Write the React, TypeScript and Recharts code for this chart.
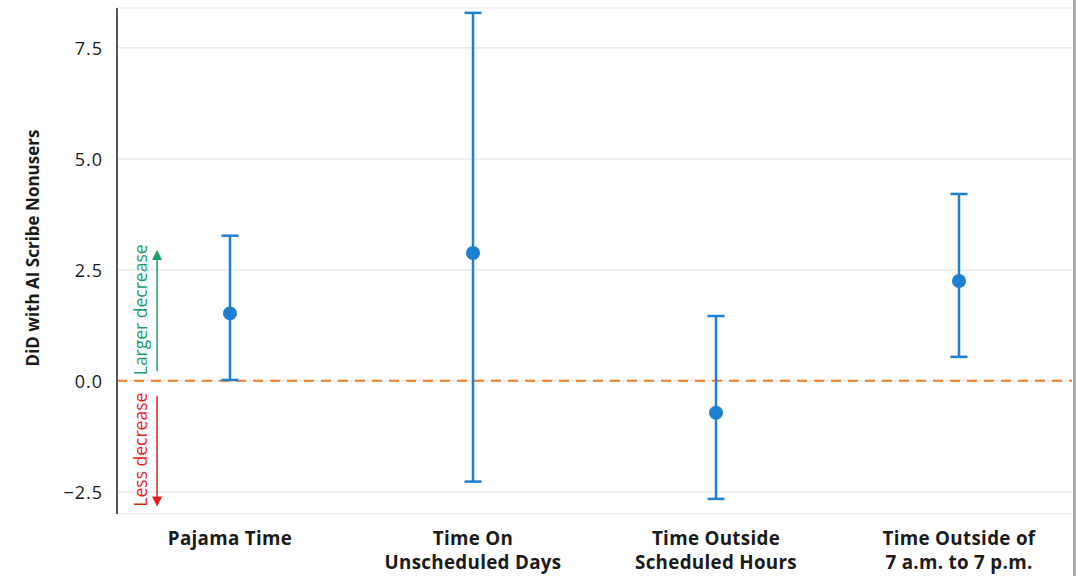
import { CartesianGrid, ComposedChart, ErrorBar, ReferenceDot, ReferenceLine, Scatter, XAxis, YAxis } from 'recharts'

const categories = ['Pajama Time', 'Time On\nUnscheduled Days', 'Time Outside\nScheduled Hours', 'Time Outside of\n7 a.m. to 7 p.m.']
const estimates = [1.52, 2.88, -0.72, 2.25]
const lowerBounds = [0.02, -2.27, -2.66, 0.54]
const upperBounds = [3.27, 8.29, 1.46, 4.21]
const yTicks = [-2.5, 0, 2.5, 5, 7.5]

const palette = {
  blue: '#1c7fd0',
  orange: '#f47b20',
  green: '#1a9c6c',
  red: '#ea1c1c',
  grid: '#e4e4e4',
  axis: '#555',
  ink: '#1a1a1a',
}

const data = categories.map((name, i) => ({
  x: i,
  name,
  y: estimates[i],
  err: [estimates[i] - lowerBounds[i], upperBounds[i] - estimates[i]],
}))

const boldFont = '"Open Sans", Lato, sans-serif'

function CategoryTick(props: any) {
  const { x, y, payload } = props
  const lines = categories[payload.value].split('\n')
  return (
    <text x={x} y={y} textAnchor="middle" fontFamily={boldFont} fontWeight={700} fontSize={18.8} letterSpacing={0.3} fill={palette.ink}>
      {lines.map((line, i) => (
        <tspan key={i} x={x} dy={i === 0 ? 23 : 24}>
          {line}
        </tspan>
      ))}
    </text>
  )
}

function ValueTick(props: any) {
  const { x, y, payload } = props
  const v = payload.value as number
  const label = v < 0 ? `\u2212${Math.abs(v).toFixed(1)}` : v.toFixed(1)
  return (
    <text
      x={x}
      y={y}
      textAnchor="end"
      dominantBaseline="central"
      fontFamily='"Open Sans", sans-serif'
      fontSize={18}
      letterSpacing={1}
      fill={palette.ink}
    >
      {label}
    </text>
  )
}

function YTitle(props: any) {
  const { viewBox } = props
  const cx = viewBox.x + 32
  const cy = viewBox.y + viewBox.height / 2 - 13
  return (
    <text
      x={cx}
      y={cy}
      transform={`rotate(-90 ${cx} ${cy})`}
      textAnchor="middle"
      dominantBaseline="central"
      fontFamily={boldFont}
      fontWeight={700}
      fontSize={17}
      fill={palette.ink}
    >
      DiD with AI Scribe Nonusers
    </text>
  )
}

function Dot(props: any) {
  return <circle cx={props.cx} cy={props.cy} r={7} fill={palette.blue} />
}

function ArrowHead(color: string, up: boolean) {
  return (props: any) => {
    const { cx, cy } = props
    const d = up
      ? `M${cx},${cy} L${cx - 5},${cy + 10} L${cx + 5},${cy + 10} Z`
      : `M${cx},${cy} L${cx - 5},${cy - 10} L${cx + 5},${cy - 10} Z`
    return <path d={d} fill={color} />
  }
}

function SideNote(text: string, color: string) {
  return (props: any) => {
    const { cx, cy } = props
    return (
      <text
        x={cx}
        y={cy}
        transform={`rotate(-90 ${cx} ${cy})`}
        textAnchor="middle"
        dominantBaseline="central"
        fontFamily='"Open Sans", sans-serif'
        fontSize={17.5}
        fill={color}
      >
        {text}
      </text>
    )
  }
}

export default function App() {
  return (
    <div style={{ position: 'absolute', left: 0, top: 0, width: 1076, height: 576, background: '#fff' }}>
      <ComposedChart width={1076} height={576} data={data} margin={{ top: 8, right: 4, bottom: 0, left: 0 }}>
        <CartesianGrid vertical={false} stroke={palette.grid} strokeWidth={1.2} />
        <XAxis
          type="number"
          dataKey="x"
          domain={[-0.465, 3.465]}
          ticks={[0, 1, 2, 3]}
          axisLine={false}
          tickLine={false}
          height={62}
          interval={0}
          tick={<CategoryTick />}
        />
        <YAxis
          type="number"
          domain={[-3.0, 8.4]}
          ticks={yTicks}
          width={117}
          allowDataOverflow
          axisLine={{ stroke: palette.axis, strokeWidth: 2 }}
          tickLine={false}
          tickMargin={8}
          tick={<ValueTick />}
          label={<YTitle />}
        />
        <ReferenceLine y={0} stroke={palette.orange} strokeWidth={2} strokeDasharray="10 7" />
        <ReferenceLine segment={[{ x: -0.3, y: 0.22 }, { x: -0.3, y: 2.85 }]} stroke={palette.green} strokeWidth={1.5} />
        <ReferenceDot x={-0.3} y={2.95} r={0} shape={ArrowHead(palette.green, true)} />
        <ReferenceDot x={-0.37} y={1.6} r={0} shape={SideNote('Larger decrease', palette.green)} />
        <ReferenceLine segment={[{ x: -0.3, y: -0.34 }, { x: -0.3, y: -2.7 }]} stroke={palette.red} strokeWidth={1.5} />
        <ReferenceDot x={-0.3} y={-2.83} r={0} shape={ArrowHead(palette.red, false)} />
        <ReferenceDot x={-0.37} y={-1.55} r={0} shape={SideNote('Less decrease', palette.red)} />
        <Scatter dataKey="y" fill={palette.blue} shape={<Dot />} isAnimationActive={false}>
          <ErrorBar dataKey="err" direction="y" width={8.5} stroke={palette.blue} strokeWidth={2.5} />
        </Scatter>
      </ComposedChart>
      <div style={{ position: 'absolute', top: 0, right: 0, width: 3, height: 576, background: '#a8a8a8' }} />
    </div>
  )
}
